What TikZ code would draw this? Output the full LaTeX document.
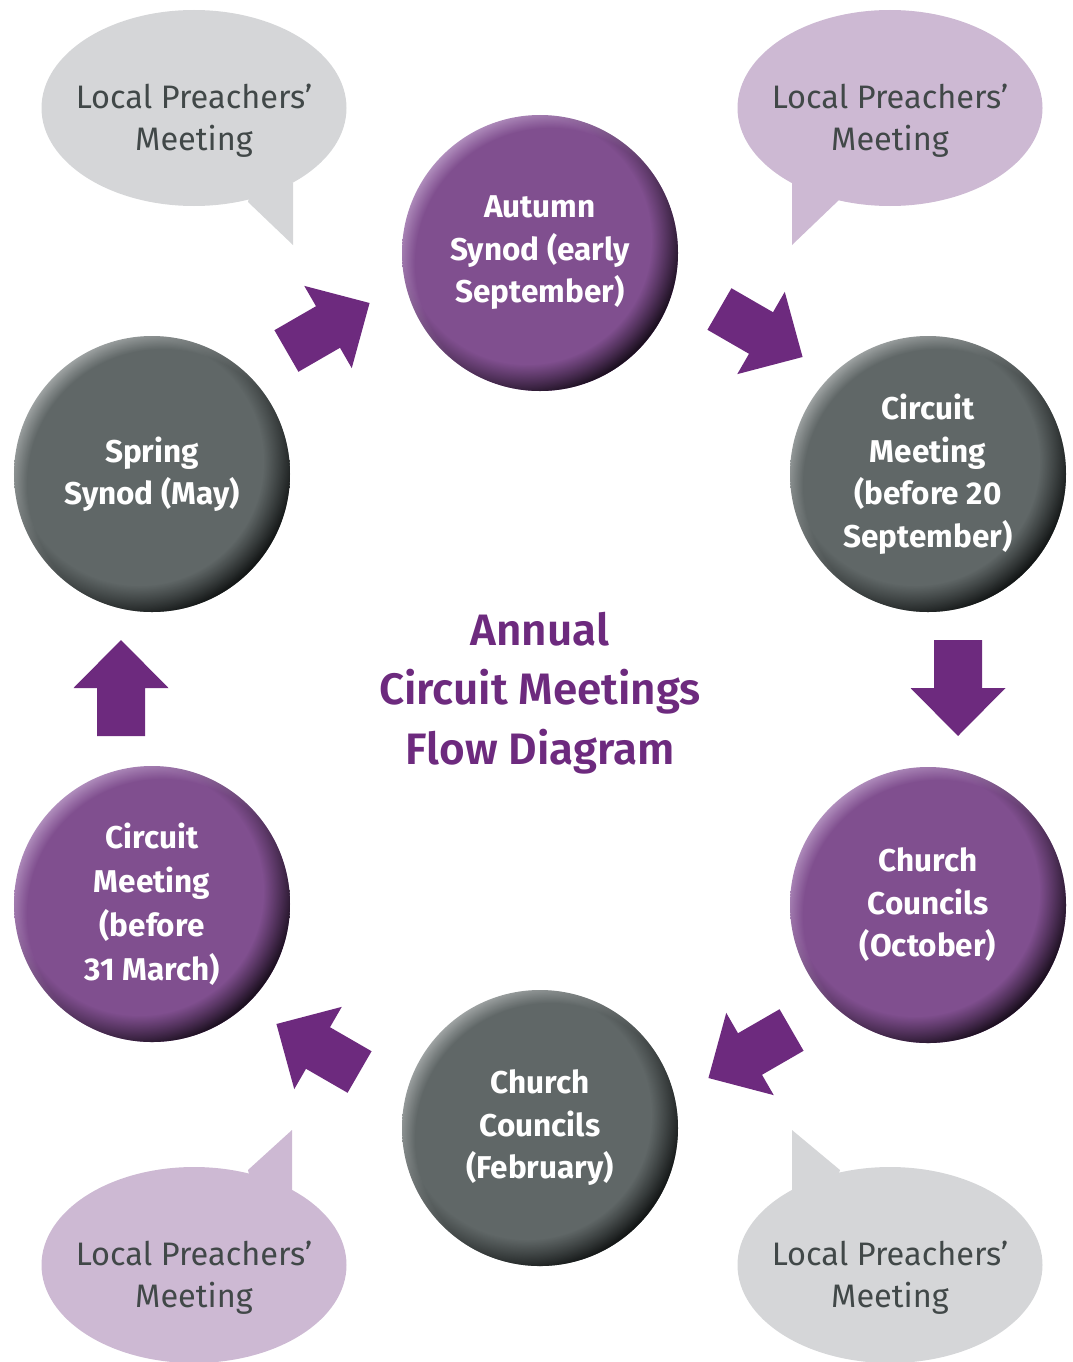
\documentclass[tikz,border=0pt]{standalone}
\usepackage{fontspec}
\setmainfont{Fira Sans}
\newfontfamily\headingfont{Fira Sans SemiBold}
\usetikzlibrary{shapes.geometric,fadings}

\definecolor{meetpurple}{RGB}{128,79,143}
\definecolor{purplelight}{RGB}{190,160,202}
\definecolor{purpledark}{RGB}{28,16,32}
\definecolor{meetgrey}{RGB}{96,103,103}
\definecolor{greylight}{RGB}{176,180,180}
\definecolor{greydark}{RGB}{20,23,23}
\definecolor{arrowpurple}{RGB}{109,42,126}
\definecolor{bubblegrey}{RGB}{213,214,216}
\definecolor{bubblelilac}{RGB}{205,185,211}
\definecolor{lptext}{RGB}{65,72,72}

% rim light (upper left) and rim shadow (lower right)
\pgfdeclareradialshading{purplehi}{\pgfpoint{8bp}{-8bp}}{color(0bp)=(meetpurple); color(24.5bp)=(meetpurple); color(27.5bp)=(purplelight); color(32bp)=(purplelight)}
\pgfdeclareradialshading{purplelo}{\pgfpoint{-8bp}{8bp}}{color(0bp)=(meetpurple); color(22.5bp)=(meetpurple); color(26.5bp)=(purpledark); color(32bp)=(purpledark)}
\pgfdeclareradialshading{greyhi}{\pgfpoint{8bp}{-8bp}}{color(0bp)=(meetgrey); color(24.5bp)=(meetgrey); color(27.5bp)=(greylight); color(32bp)=(greylight)}
\pgfdeclareradialshading{greylo}{\pgfpoint{-8bp}{8bp}}{color(0bp)=(meetgrey); color(22.5bp)=(meetgrey); color(26.5bp)=(greydark); color(32bp)=(greydark)}
\tikzfading[name=rimfade, left color=transparent!100, right color=transparent!0]

\begin{document}
\begin{tikzpicture}[x=1pt, y=1pt,
        meeting/.style = {circle, minimum size=276pt, inner sep=0pt, text=white, align=center,
            font=\fontsize{31.5}{42.5}\selectfont\bfseries},
        purplemeeting/.style = {meeting, shade, shading=purplehi,
            postaction={shade, shading=purplelo, path fading=rimfade, fading angle=-45}},
        greymeeting/.style = {meeting, shade, shading=greyhi,
            postaction={shade, shading=greylo, path fading=rimfade, fading angle=-45}},
        bubble/.style = {ellipse, minimum width=305pt, minimum height=196pt, inner sep=0pt},
        bubbletext/.style = {text=lptext, align=center, font=\fontsize{32.5}{42}\selectfont},
        heading/.style = {text=arrowpurple, align=center, font=\fontsize{44}{59.5}\headingfont},
        flowarrow/.pic = {
            \fill[arrowpurple] (-48,-24) -- (0,-24) -- (0,-47.5) -- (48,0)
                -- (0,47.5) -- (0,24) -- (-48,24) -- cycle;
        }
    ]
    \useasboundingbox (0,0) rectangle (1073,-1362);

    % speech bubbles
    \node [bubble, fill=bubblegrey] (lptl) at (194,-108) {};
    \node [bubble, fill=bubblelilac] (lptr) at (890,-108) {};
    \node [bubble, fill=bubblelilac] (lpbl) at (194,-1265) {};
    \node [bubble, fill=bubblegrey] (lpbr) at (890,-1265) {};
    \fill [bubblegrey] (248,-202) -- (293,-245) -- (293,-183) -- (255,-170) -- cycle;
    \fill [bubblelilac] (840,-199) -- (792,-245) -- (792,-183) -- (830,-170) -- cycle;
    \fill [bubblelilac] (248,-1170) -- (292,-1130) -- (292,-1192) -- (255,-1200) -- cycle;
    \fill [bubblegrey] (840,-1170) -- (792,-1130) -- (792,-1192) -- (830,-1200) -- cycle;
    \node [bubbletext] (lptltext) at ([yshift=-13pt]lptl.center) {Local Preachers'\\Meeting};
    \node [bubbletext] (lptrtext) at ([yshift=-13pt]lptr.center) {Local Preachers'\\Meeting};
    \node [bubbletext] (lpbltext) at ([yshift=-13pt]lpbl.center) {Local Preachers'\\Meeting};
    \node [bubbletext] (lpbrtext) at ([yshift=-13pt]lpbr.center) {Local Preachers'\\Meeting};

    % meetings
    \node [purplemeeting] (autumn) at (540,-253) {Autumn\\Synod (early\\September)};
    \node [greymeeting] (circsep) at (928,-474) {Circuit\\Meeting\\(before 20\\September)};
    \node [purplemeeting] (chcoct) at (928,-905) {Church\\Councils\\(October)};
    \node [greymeeting] (chcfeb) at (540,-1128) {Church\\Councils\\(February)};
    \node [purplemeeting, font=\fontsize{31.5}{44}\selectfont\bfseries] (circmar) at (152,-904) {Circuit\\Meeting\\(before\\31 March)};
    \node [greymeeting] (spring) at (152,-474) {Spring\\Synod (May)};

    % arrows
    \pic [rotate=30] at (328,-327) {flowarrow};
    \pic [rotate=-30] at (761,-333) {flowarrow};
    \pic [rotate=-90] at (958,-688) {flowarrow};
    \pic [rotate=210] at (750,-1054) {flowarrow};
    \pic [rotate=150] at (318,-1048) {flowarrow};
    \pic [rotate=90] at (121,-688) {flowarrow};

    \node [heading] (title) at (540,-693) {Annual\\Circuit Meetings\\Flow Diagram};
\end{tikzpicture}
\end{document}
